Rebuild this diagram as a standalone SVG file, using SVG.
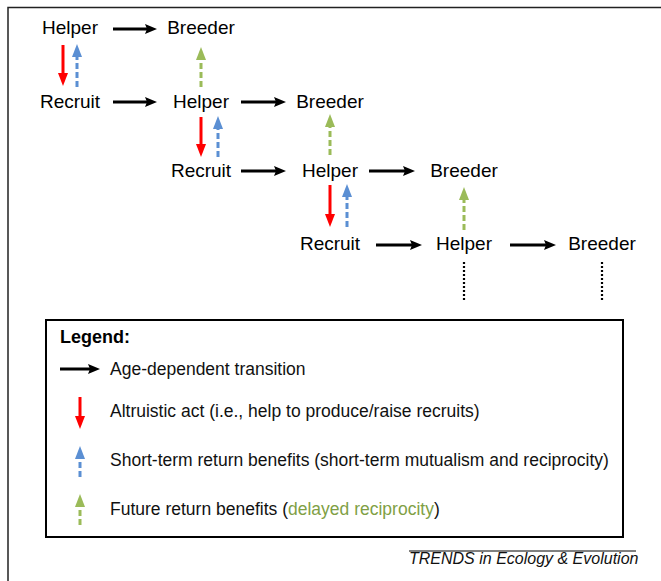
<svg xmlns="http://www.w3.org/2000/svg" width="661" height="581" viewBox="0 0 661 581">
<defs>
<style>
.n{font-family:"Liberation Sans",Arial,sans-serif;font-size:19px;fill:#000;text-anchor:middle}
.lg{font-family:"Liberation Sans",Arial,sans-serif;font-size:17.5px;fill:#111}
.blk{stroke:#000;stroke-width:3;fill:none}
.red{stroke:#ff0000;stroke-width:3;fill:none}
.blu{stroke:#5b8fd3;stroke-width:3;fill:none;stroke-dasharray:6 3}
.grn{stroke:#9bbb59;stroke-width:3;fill:none;stroke-dasharray:6 3}
.dot{stroke:#000;stroke-width:2.2;fill:none;stroke-dasharray:2 2}
</style>
<marker id="hb" markerUnits="userSpaceOnUse" markerWidth="14" markerHeight="12" refX="6" refY="5" orient="auto"><path d="M0,0 L12,5 L0,10 L2,5 z" fill="#000"/></marker>
<marker id="hr" markerUnits="userSpaceOnUse" markerWidth="14" markerHeight="12" refX="6" refY="5" orient="auto"><path d="M0,0 L13,5 L0,10 z" fill="#ff0000"/></marker>
<marker id="hbl" markerUnits="userSpaceOnUse" markerWidth="14" markerHeight="12" refX="6" refY="5" orient="auto"><path d="M0,0 L13,5 L0,10 z" fill="#5b8fd3"/></marker>
<marker id="hg" markerUnits="userSpaceOnUse" markerWidth="14" markerHeight="12" refX="6" refY="5" orient="auto"><path d="M0,0 L13,5 L0,10 z" fill="#9bbb59"/></marker>
</defs>
<rect width="661" height="581" fill="#fff"/>
<path d="M661,7.5 H8 V581" stroke="#222" stroke-width="1.5" fill="none"/>

<g id="connectors">
<line class="blk" x1="113" y1="29" x2="151" y2="29" marker-end="url(#hb)"/>
<line class="blk" x1="113" y1="102" x2="151" y2="102" marker-end="url(#hb)"/>
<line class="blk" x1="241" y1="102" x2="280" y2="102" marker-end="url(#hb)"/>
<line class="blk" x1="241" y1="171" x2="280" y2="171" marker-end="url(#hb)"/>
<line class="blk" x1="369" y1="171" x2="409" y2="171" marker-end="url(#hb)"/>
<line class="blk" x1="376" y1="245" x2="416" y2="245" marker-end="url(#hb)"/>
<line class="blk" x1="510" y1="245" x2="550" y2="245" marker-end="url(#hb)"/>
<line class="red" x1="63" y1="45" x2="63" y2="79" marker-end="url(#hr)"/>
<line class="red" x1="201" y1="117" x2="201" y2="150" marker-end="url(#hr)"/>
<line class="red" x1="330" y1="185" x2="330" y2="220" marker-end="url(#hr)"/>
<line class="blu" x1="77" y1="87" x2="77" y2="51" marker-end="url(#hbl)"/>
<line class="blu" x1="218" y1="157" x2="218" y2="123" marker-end="url(#hbl)"/>
<line class="blu" x1="347" y1="227" x2="347" y2="191" marker-end="url(#hbl)"/>
<line class="grn" x1="201" y1="87" x2="201" y2="54" marker-end="url(#hg)"/>
<line class="grn" x1="330" y1="155" x2="330" y2="121" marker-end="url(#hg)"/>
<line class="grn" x1="464" y1="230" x2="464" y2="194" marker-end="url(#hg)"/>
<line class="dot" x1="464" y1="262" x2="464" y2="300"/>
<line class="dot" x1="602" y1="262" x2="602" y2="300"/>
</g>

<g id="row1-helper"><text class="n" x="70" y="34">Helper</text></g>
<g id="row1-breeder"><text class="n" x="201" y="34">Breeder</text></g>
<g id="row2-recruit"><text class="n" x="70" y="108">Recruit</text></g>
<g id="row2-helper"><text class="n" x="201" y="108">Helper</text></g>
<g id="row2-breeder"><text class="n" x="330" y="108">Breeder</text></g>
<g id="row3-recruit"><text class="n" x="201" y="177">Recruit</text></g>
<g id="row3-helper"><text class="n" x="330" y="177">Helper</text></g>
<g id="row3-breeder"><text class="n" x="464" y="177">Breeder</text></g>
<g id="row4-recruit"><text class="n" x="330" y="250">Recruit</text></g>
<g id="row4-helper"><text class="n" x="464" y="250">Helper</text></g>
<g id="row4-breeder"><text class="n" x="602" y="250">Breeder</text></g>

<g id="legend">
<rect x="46" y="320" width="577" height="217" fill="none" stroke="#000" stroke-width="2"/>
<text x="60" y="343" font-family="'Liberation Sans',Arial,sans-serif" font-size="18" font-weight="bold">Legend:</text>
<line class="blk" x1="60" y1="369" x2="94" y2="369" marker-end="url(#hb)"/>
<text class="lg" x="110" y="375">Age-dependent transition</text>
<line class="red" x1="80" y1="397" x2="80" y2="422" marker-end="url(#hr)"/>
<text class="lg" x="110" y="417">Altruistic act (i.e., help to produce/raise recruits)</text>
<line class="blu" x1="80" y1="477" x2="80" y2="453" marker-end="url(#hbl)"/>
<text class="lg" x="110" y="466">Short-term return benefits (short-term mutualism and reciprocity)</text>
<line class="grn" x1="80" y1="525" x2="80" y2="501" marker-end="url(#hg)"/>
<text class="lg" x="110" y="515">Future return benefits (<tspan fill="#7f9f45">delayed reciprocity</tspan>)</text>
</g>

<g id="credit">
<line x1="409" y1="551" x2="636" y2="551" stroke="#000" stroke-width="1"/>
<text x="409" y="564" font-family="'Liberation Sans',Arial,sans-serif" font-size="16" font-style="italic" fill="#111">TRENDS in Ecology &amp; Evolution</text>
</g>
</svg>
